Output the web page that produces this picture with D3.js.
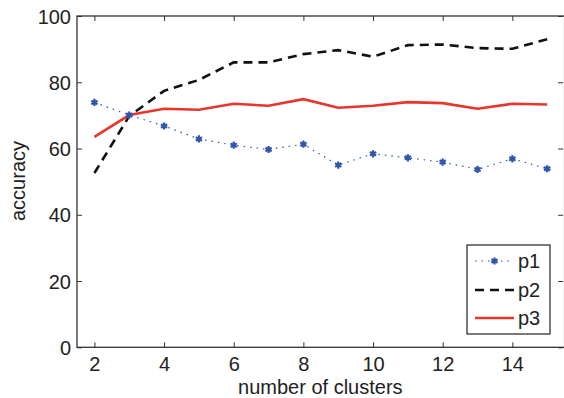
<!DOCTYPE html>
<html><head><meta charset="utf-8">
<script src="https://cdn.jsdelivr.net/npm/d3@7"></script>
<style>body{margin:0;background:#fff}svg{display:block}text{font-family:"Liberation Sans",Arial,Helvetica,sans-serif;fill:#222}</style>
</head><body>
<svg id="c" width="564" height="398"></svg>
<script>
const clusters = [2,3,4,5,6,7,8,9,10,11,12,13,14,15];
const p1 = [73.9,70.1,66.8,62.9,61.0,59.7,61.3,55.0,58.4,57.2,55.9,53.7,56.9,53.9];
const p2 = [52.6,69.8,77.4,80.7,86.0,86.0,88.5,89.7,87.7,91.2,91.4,90.3,90.1,93.0];
const p3 = [63.5,70.1,72.0,71.7,73.5,72.9,74.9,72.3,72.9,74.0,73.7,72.0,73.5,73.3];
const seriesNames = ["p1","p2","p3"];
const xTicks = [2,4,6,8,10,12,14];
const yTicks = [0,20,40,60,80,100];

const svg = d3.select("#c");
const L=77, R=564.6, T=16, B=347.3;
const x = d3.scaleLinear().domain([1.5,15.5]).range([L,R]);
const y = d3.scaleLinear().domain([0,100]).range([B,T]);
const axisCol="#333", fs=20;

// frame
svg.append("rect").attr("x",L).attr("y",T).attr("width",R-L).attr("height",B-T)
  .attr("fill","none").attr("stroke",axisCol).attr("stroke-width",1.3);

// ticks (inward) using axes
const gx = svg.append("g").attr("transform",`translate(0,${B})`)
  .call(d3.axisBottom(x).tickValues(xTicks).tickSizeInner(-5).tickSizeOuter(0).tickPadding(9.5));
const gxt = svg.append("g").attr("transform",`translate(0,${T})`)
  .call(d3.axisTop(x).tickValues(xTicks).tickSizeInner(-5).tickSizeOuter(0).tickFormat(""));
const gy = svg.append("g").attr("transform",`translate(${L},0)`)
  .call(d3.axisLeft(y).tickValues(yTicks).tickSizeInner(-5).tickSizeOuter(0).tickPadding(6));
const gyr = svg.append("g").attr("transform",`translate(${R-1.5},0)`)
  .call(d3.axisRight(y).tickValues(yTicks).tickSizeInner(-5).tickSizeOuter(0).tickFormat(""));
[gx,gxt,gy,gyr].forEach(g=>{
  g.select(".domain").remove();
  g.selectAll("line").attr("stroke",axisCol).attr("stroke-width",1);
  g.selectAll("text").attr("font-size",fs).attr("fill","#222").style("font-family",'"Liberation Sans",Arial,sans-serif');
});
gx.selectAll("text").attr("dy","0.71em");
gy.selectAll("text").attr("dy","0.36em");

// axis labels
svg.append("text").attr("x",(L+R)/2-0.5).attr("y",393.5).attr("text-anchor","middle")
  .attr("font-size",fs).text("number of clusters");
svg.append("text").attr("transform",`translate(25,181) rotate(-90)`).attr("text-anchor","middle")
  .attr("font-size",fs).text("accuracy");

const line = d3.line().x((d,i)=>x(clusters[i])).y(d=>y(d));
const cBlue="#2f56a8", cRed="#e8362c", cBlack="#111";

svg.append("path").datum(p2).attr("d",line).attr("fill","none")
  .attr("stroke",cBlack).attr("stroke-width",2.6).attr("stroke-dasharray","9,6");
svg.append("path").datum(p3).attr("d",line).attr("fill","none")
  .attr("stroke",cRed).attr("stroke-width",2.6);
svg.append("path").datum(p1).attr("d",line).attr("fill","none")
  .attr("stroke",cBlue).attr("stroke-width",1.2).attr("stroke-dasharray","1.5,5");
const star = d3.symbol().type(d3.symbolAsterisk).size(36);
svg.selectAll(".m").data(p1).enter().append("path")
  .attr("transform",(d,i)=>`translate(${x(clusters[i])},${y(d)})`)
  .attr("d",star).attr("fill","none").attr("stroke",cBlue).attr("stroke-width",2.2);

// legend
const lg = svg.append("g");
lg.append("rect").attr("x",467).attr("y",245).attr("width",83).attr("height",89)
  .attr("fill","#fff").attr("stroke","#222").attr("stroke-width",1.2);
const rows=[261,290,318];
const styles=[
  {c:cBlue,w:1.2,da:"1.5,5"},
  {c:cBlack,w:2.6,da:"9,6"},
  {c:cRed,w:2.6,da:null}];
seriesNames.forEach((n,i)=>{
  const ln = lg.append("line").attr("x1",475).attr("x2",514).attr("y1",rows[i]).attr("y2",rows[i])
    .attr("stroke",styles[i].c).attr("stroke-width",styles[i].w);
  if(styles[i].da) ln.attr("stroke-dasharray",styles[i].da);
  if(i===0) lg.append("path").attr("transform",`translate(494.5,${rows[i]})`).attr("d",star)
    .attr("fill","none").attr("stroke",cBlue).attr("stroke-width",2.2);
  lg.append("text").attr("x",518).attr("y",rows[i]).attr("dy","0.36em").attr("font-size",fs).text(n);
});
</script>
</body></html>
